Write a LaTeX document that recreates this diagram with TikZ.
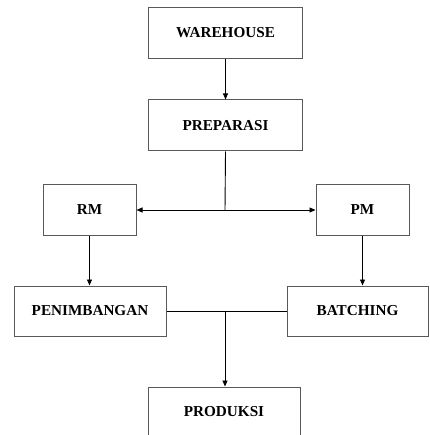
\documentclass[tikz,border=0pt]{standalone}
\usepackage{fontspec}
\setmainfont{Liberation Serif}
\usetikzlibrary{arrows.meta}
\begin{document}
\begin{tikzpicture}[x=1pt,y=1pt,
  box/.style={draw=black!65,line width=1pt,rectangle,inner sep=0pt,
    font=\fontsize{15.2}{17}\selectfont\bfseries},
  conn/.style={draw=black,line width=0.9pt},
  arr/.style={conn,-{Triangle[length=6pt,width=5pt,fill=black]}}]
\useasboundingbox (0,0) rectangle (429,-435);
\node[box,minimum width=154pt,minimum height=51pt] (wh) at (225.5,-33) {WAREHOUSE};
\node[box,minimum width=154pt,minimum height=51pt] (prep) at (225.5,-125.5) {PREPARASI};
\node[box,minimum width=93pt,minimum height=50pt] (rm) at (89.5,-210) {RM};
\node[box,minimum width=93pt,minimum height=50pt] (pm) at (362.5,-210) {PM};
\node[box,minimum width=152pt,minimum height=50pt] (pen) at (90,-311) {PENIMBANGAN};
\node[box,minimum width=141pt,minimum height=50pt] (bat) at (357.5,-311) {BATCHING};
\node[box,minimum width=152pt,minimum height=50pt] (prod) at (224,-412) {PRODUKSI};
\coordinate (j1) at (225,-210);
\coordinate (j2) at (225,-311);
\draw[arr] (wh.south) -- (prep.north);
\draw[conn] (prep.south) -- (j1);
\draw[arr] (j1) -- (rm.east);
\draw[arr] (j1) -- (pm.west);
\draw[arr] (rm.south) -- (rm.south |- pen.north);
\draw[arr] (pm.south) -- (pm.south |- bat.north);
\draw[conn] (pen.east) -- (bat.west);
\draw[arr] (j2) -- (j2 |- prod.north);
\end{tikzpicture}
\end{document}
